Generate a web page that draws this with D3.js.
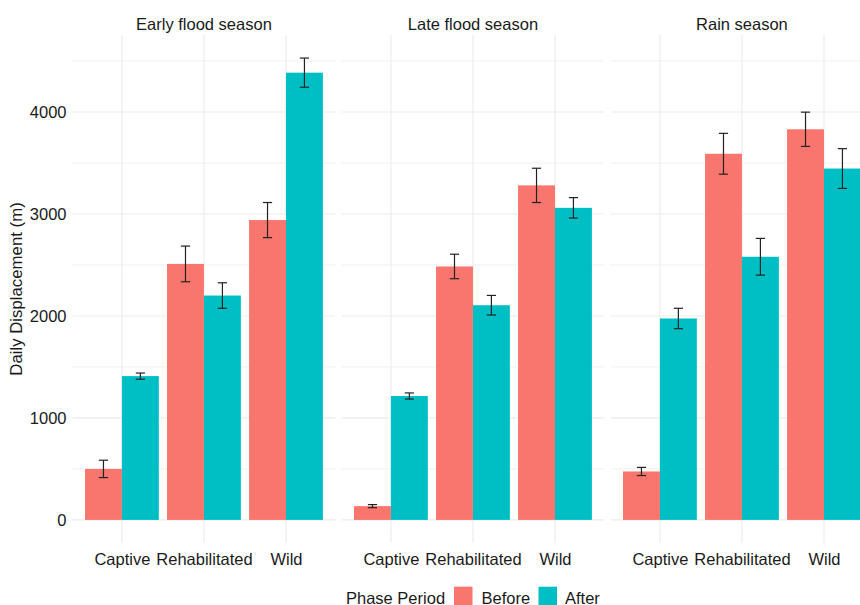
<!DOCTYPE html>
<html>
<head>
<meta charset="utf-8">
<script src="https://cdn.jsdelivr.net/npm/d3@7"></script>
<style>
  html, body { margin: 0; padding: 0; background: #fff; }
  svg { display: block; font-family: "Liberation Sans", Arial, sans-serif; }
</style>
</head>
<body>
<svg id="chart" width="860" height="605"></svg>
<script>
// Facets, x categories and fill groups
const seasons = ["Early flood season", "Late flood season", "Rain season"];
const origins = ["Captive", "Rehabilitated", "Wild"];
const phases = ["Before", "After"];

// Mean daily displacement (m), one row per season, columns follow `origins`
const beforeMean = [
  [500, 2510, 2940],
  [135, 2485, 3280],
  [475, 3590, 3830]
];
const afterMean = [
  [1410, 2200, 4385],
  [1215, 2105, 3060],
  [1975, 2580, 3445]
];
// Standard errors (half-height of the error bars)
const beforeSE = [
  [85, 175, 172],
  [15, 120, 168],
  [40, 200, 168]
];
const afterSE = [
  [30, 125, 143],
  [30, 96, 100],
  [100, 180, 195]
];

const majorTicks = [0, 1000, 2000, 3000, 4000];
const minorTicks = [500, 1500, 2500, 3500, 4500];

const phaseColors = ["#F8766D", "#00BFC4"];

// Long-format rows built from the arrays above
const rows = [];
seasons.forEach((s, si) => {
  origins.forEach((o, oi) => {
    rows.push({ season: s, origin: o, phase: "Before", mean: beforeMean[si][oi], se: beforeSE[si][oi] });
    rows.push({ season: s, origin: o, phase: "After", mean: afterMean[si][oi], se: afterSE[si][oi] });
  });
});

// Layout
const panelLeft = 72.7, panelW = 262.5, panelGap = 6.5;
const panelTop = 35, panelBottom = 543;

const svg = d3.select("#chart");

const yMax = d3.max(rows, d => d.mean + d.se);
const pad = yMax * 0.05;
const y = d3.scaleLinear().domain([-pad, yMax + pad]).range([panelBottom, panelTop]);

const xPanel = d3.scaleBand().domain(seasons)
  .range([panelLeft, panelLeft + 3 * panelW + 2 * panelGap])
  .paddingInner(panelGap / (panelW + panelGap)).paddingOuter(0);

const x = d3.scalePoint().domain(origins).range([0, panelW]).padding(0.6);
const step = x.step();
const xPhase = d3.scaleBand().domain(phases).range([-0.45 * step, 0.45 * step]).padding(0);
const color = d3.scaleOrdinal().domain(phases).range(phaseColors);

const textColor = "#1a1a1a";
const fontSize = "16.5px";

seasons.forEach(season => {
  const g = svg.append("g").attr("transform", `translate(${xPanel(season)},0)`);

  // Horizontal grid (minor, then major)
  g.selectAll("line.minor").data(minorTicks).join("line")
    .attr("x1", 0).attr("x2", panelW)
    .attr("y1", d => y(d)).attr("y2", d => y(d))
    .attr("stroke", "#F0F0F0").attr("stroke-width", 1);
  g.selectAll("line.major").data(majorTicks).join("line")
    .attr("x1", 0).attr("x2", panelW)
    .attr("y1", d => y(d)).attr("y2", d => y(d))
    .attr("stroke", "#EBEBEB").attr("stroke-width", 1.1);

  // Vertical grid at category positions
  g.selectAll("line.vgrid").data(origins).join("line")
    .attr("x1", d => x(d)).attr("x2", d => x(d))
    .attr("y1", panelTop).attr("y2", panelBottom)
    .attr("stroke", "#EBEBEB").attr("stroke-width", 1.1);

  const data = rows.filter(r => r.season === season);

  // Bars
  g.selectAll("rect.bar").data(data).join("rect")
    .attr("x", d => x(d.origin) + xPhase(d.phase))
    .attr("width", xPhase.bandwidth())
    .attr("y", d => y(d.mean))
    .attr("height", d => y(0) - y(d.mean))
    .attr("fill", d => color(d.phase));

  // Error bars
  const capHalf = 4.6;
  const eb = g.selectAll("g.err").data(data).join("g")
    .attr("transform", d => `translate(${x(d.origin) + xPhase(d.phase) + xPhase.bandwidth() / 2},0)`);
  eb.append("line")
    .attr("x1", 0).attr("x2", 0)
    .attr("y1", d => y(d.mean + d.se)).attr("y2", d => y(d.mean - d.se))
    .attr("stroke", "#222").attr("stroke-width", 1.2);
  eb.append("line")
    .attr("x1", -capHalf).attr("x2", capHalf)
    .attr("y1", d => y(d.mean + d.se)).attr("y2", d => y(d.mean + d.se))
    .attr("stroke", "#222").attr("stroke-width", 1.2);
  eb.append("line")
    .attr("x1", -capHalf).attr("x2", capHalf)
    .attr("y1", d => y(d.mean - d.se)).attr("y2", d => y(d.mean - d.se))
    .attr("stroke", "#222").attr("stroke-width", 1.2);

  // Strip title
  g.append("text")
    .attr("x", panelW / 2).attr("y", 30)
    .attr("text-anchor", "middle")
    .attr("font-size", fontSize).attr("fill", textColor)
    .text(season);

  // X axis labels
  const xAxis = d3.axisBottom(x).tickSize(0).tickPadding(0);
  const xg = g.append("g").attr("transform", `translate(0,${565})`).call(xAxis);
  xg.select(".domain").remove();
  xg.selectAll("text")
    .attr("dy", 0).attr("y", 0)
    .attr("font-size", fontSize).attr("fill", textColor)
    .attr("font-family", "Liberation Sans, Arial, sans-serif");
});

// Y axis tick labels (left of first panel)
const yAxis = d3.axisLeft(y).tickValues(majorTicks).tickSize(0).tickPadding(0).tickFormat(d3.format("d"));
const yg = svg.append("g").attr("transform", `translate(${66.5},0)`).call(yAxis);
yg.select(".domain").remove();
yg.selectAll("text")
  .attr("x", 0).attr("dy", "0.35em")
  .attr("font-size", fontSize).attr("fill", textColor)
  .attr("font-family", "Liberation Sans, Arial, sans-serif");

// Y axis title
svg.append("text")
  .attr("transform", `translate(22,${(panelTop + panelBottom) / 2}) rotate(-90)`)
  .attr("text-anchor", "middle")
  .attr("font-size", "16.8px").attr("fill", textColor)
  .text("Daily Displacement (m)");

// Legend
const legend = svg.append("g");
const legBase = 603.5;
legend.append("text")
  .attr("x", 346).attr("y", legBase)
  .attr("font-size", fontSize).attr("fill", textColor)
  .text("Phase Period");
const keyX = [454, 538.5];
const labX = [481.5, 565];
phases.forEach((p, i) => {
  legend.append("rect")
    .attr("x", keyX[i]).attr("y", 586.7)
    .attr("width", 18.5).attr("height", 18.5)
    .attr("fill", color(p));
  legend.append("text")
    .attr("x", labX[i]).attr("y", legBase)
    .attr("font-size", fontSize).attr("fill", textColor)
    .text(p);
});
</script>
</body>
</html>
